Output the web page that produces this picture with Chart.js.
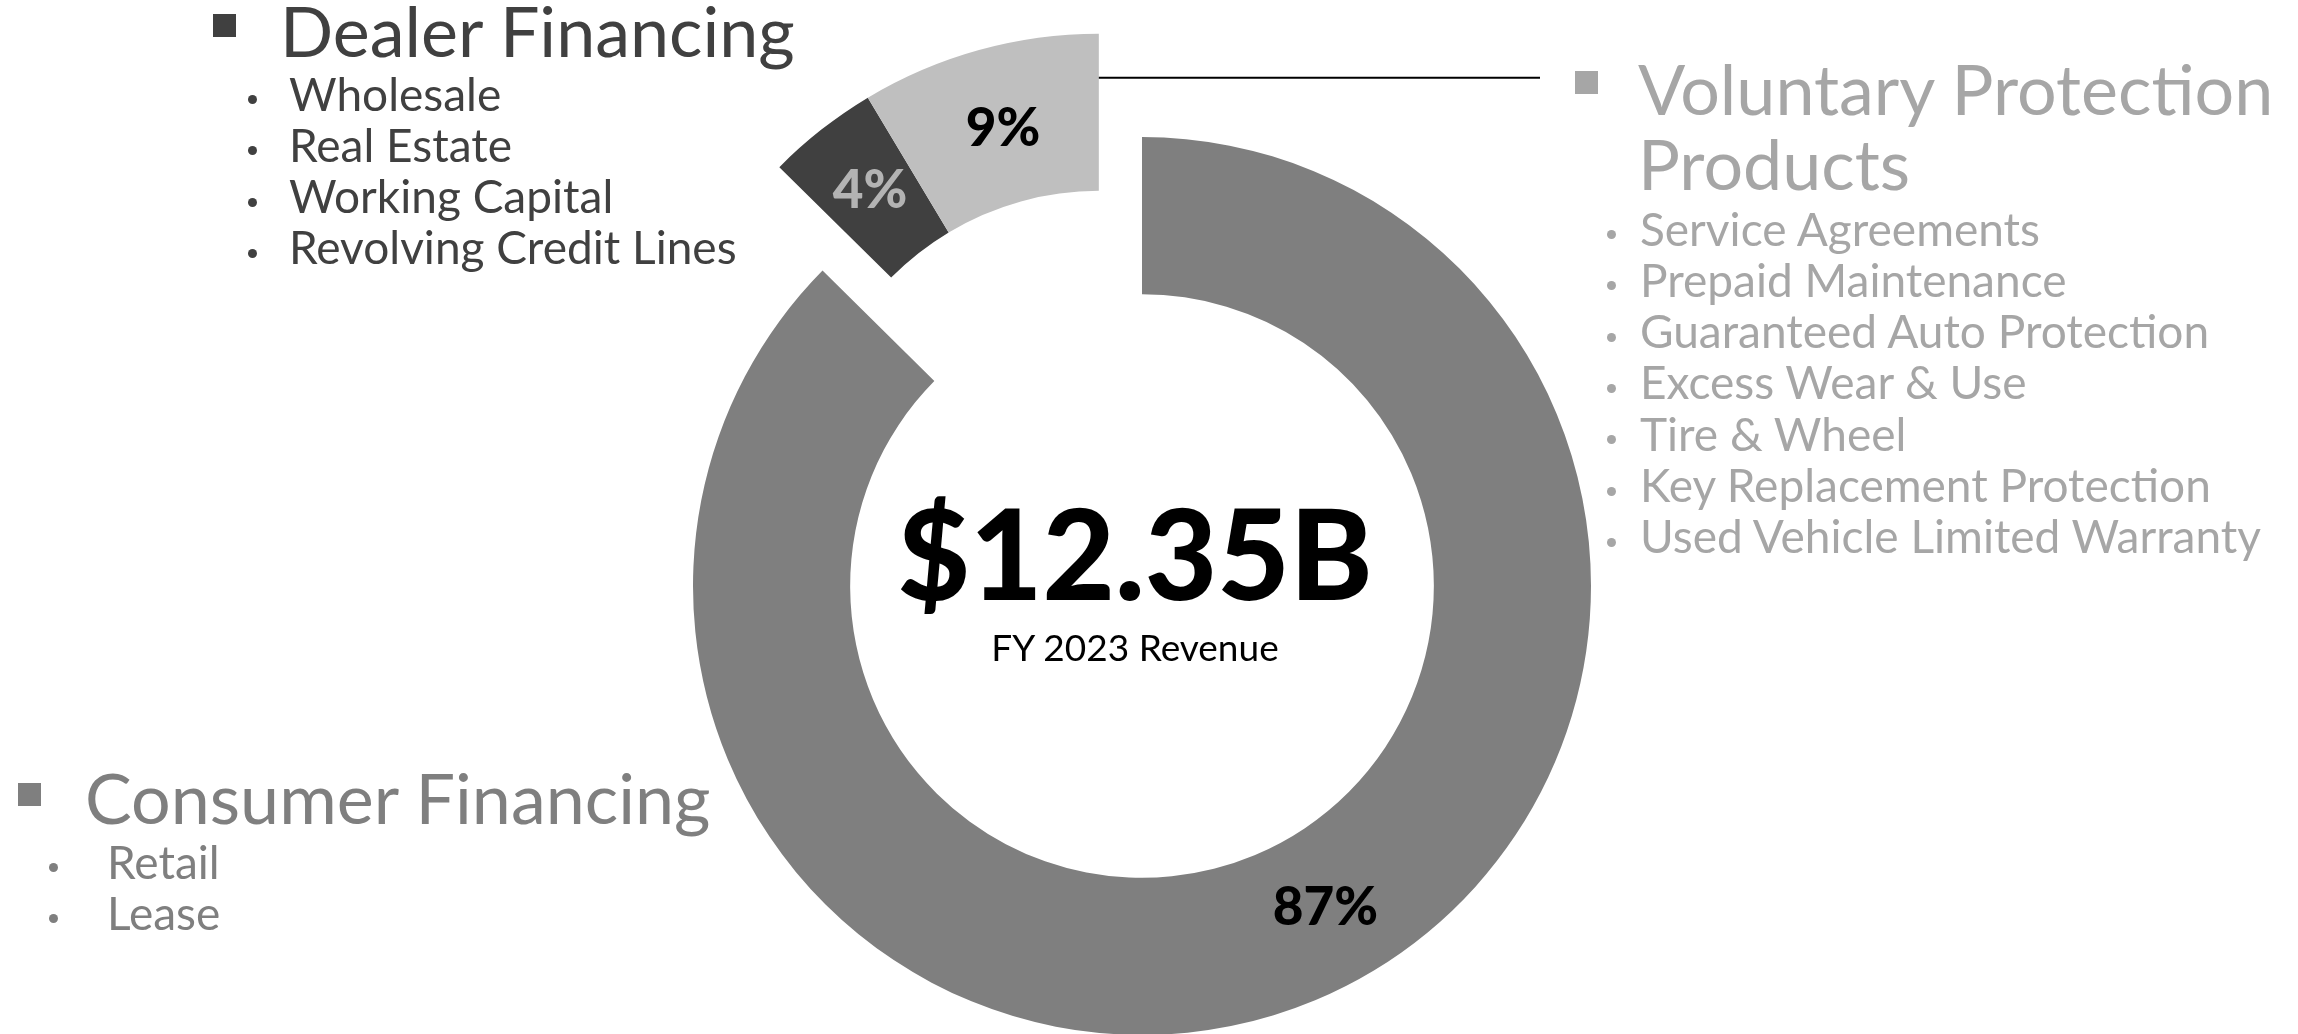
<!DOCTYPE html>
<html>
<head>
<meta charset="utf-8">
<title>FY 2023 Revenue by business</title>
<script src="https://cdn.jsdelivr.net/npm/chart.js@4.4.1/dist/chart.umd.min.js"></script>
<style>
  html, body { margin: 0; padding: 0; background: #fff; }
  body { width: 2298px; height: 1034px; overflow: hidden; position: relative; font-family: Lato, 'Noto Sans', sans-serif; }
  #chartBox { position: absolute; left: 0; top: 0; width: 2298px; height: 1040px; }
  .txt { position: absolute; white-space: nowrap; line-height: 1.2; }
  .sq, .dot { position: absolute; }
  .dot { border-radius: 50%; }
</style>
</head>
<body>
<div id="chartBox"><canvas id="revenueChart"></canvas></div>
<div id="overlay"></div>
<script>
// FY 2023 revenue split: one doughnut, the dealer + protection slices pulled out together.

const categories = ['Consumer Financing', 'Dealer Financing', 'Voluntary Protection Products'];
const shares = [87.4, 4.0, 8.6];
const consumerItems = ['Retail', 'Lease'];
const dealerItems = ['Wholesale', 'Real Estate', 'Working Capital', 'Revolving Credit Lines'];
const protectionItems = [
  'Service Agreements', 'Prepaid Maintenance', 'Guaranteed Auto Protection',
  'Excess Wear & Use', 'Tire & Wheel', 'Key Replacement Protection', 'Used Vehicle Limited Warranty'
];
const totalRevenue = '$12.35B';
const revenueCaption = 'FY 2023 Revenue';

const SLICE_COLORS = ['#7f7f7f', '#404040', '#bfbfbf'];
const LABEL_COLORS = ['#000000', '#b3b3b3', '#000000'];
const LABEL_NUDGE_DEG = [-7, 0, 0.5];   // 87% label sits a bit before its slice middle
const EXPLODED = [1, 2];
const EXPLODE_DIST = 112;
const LEADER_END_X = 1540;

// pulls the exploded slices out as one block, along the bisector of the whole group
const explodePlugin = {
  id: 'explodeGroup',
  afterDatasetUpdate(chart, args) {
    const arcs = chart.getDatasetMeta(args.index).data;
    const group = EXPLODED.map(i => arcs[i]);
    const mid = (Math.min(...group.map(a => a.startAngle)) + Math.max(...group.map(a => a.endAngle))) / 2;
    group.forEach(a => {
      a.x += Math.cos(mid) * EXPLODE_DIST;
      a.y += Math.sin(mid) * EXPLODE_DIST;
    });
  }
};

const sliceLabelPlugin = {
  id: 'sliceLabels',
  afterDatasetsDraw(chart) {
    const ctx = chart.ctx;
    const arcs = chart.getDatasetMeta(0).data;
    ctx.save();
    arcs.forEach((arc, i) => {
      const a = (arc.startAngle + arc.endAngle) / 2 + LABEL_NUDGE_DEG[i] * Math.PI / 180;
      const r = (arc.innerRadius + arc.outerRadius) / 2;
      ctx.font = '900 53px Lato';
      ctx.fillStyle = LABEL_COLORS[i];
      ctx.textAlign = 'center';
      ctx.textBaseline = 'middle';
      ctx.fillText(Math.round(shares[i]) + '%', arc.x + Math.cos(a) * r, arc.y + Math.sin(a) * r + (i === 2 ? 4 : 0));
    });
    // leader line from the protection slice over to its legend
    const p = arcs[2];
    const ly = p.y - (p.innerRadius + 0.72 * (p.outerRadius - p.innerRadius));
    ctx.strokeStyle = '#000';
    ctx.lineWidth = 2;
    ctx.beginPath();
    ctx.moveTo(p.x, ly);
    ctx.lineTo(LEADER_END_X, ly);
    ctx.stroke();
    ctx.restore();
  }
};

new Chart(document.getElementById('revenueChart'), {
  type: 'doughnut',
  data: {
    labels: categories,
    datasets: [{
      data: shares,
      backgroundColor: SLICE_COLORS,
      borderWidth: 0,
      hoverOffset: 0
    }]
  },
  options: {
    responsive: true,
    maintainAspectRatio: false,
    animation: false,
    cutout: '65%',
    layout: { padding: { left: 693, right: 707, top: 137, bottom: 5 } },
    plugins: { legend: { display: false }, tooltip: { enabled: false } }
  },
  plugins: [explodePlugin, sliceLabelPlugin]
});

// ---- text blocks (legend, bullets, centre total) ----
const overlay = document.getElementById('overlay');
const ASC = 0.987; // Lato ascent, line-height 1.2 keeps baseline at top + ascent
const ITEM_SIZE = 46;

function addText(str, x, baseline, size, color, weight, align) {
  const d = document.createElement('div');
  d.className = 'txt';
  d.textContent = str;
  d.style.fontSize = size + 'px';
  d.style.color = color;
  d.style.fontWeight = weight || 400;
  d.style.top = (baseline - ASC * size) + 'px';
  if (align === 'center') {
    d.style.left = (x - 1000) + 'px';
    d.style.width = '2000px';
    d.style.textAlign = 'center';
  } else {
    d.style.left = x + 'px';
  }
  overlay.appendChild(d);
}

function addBox(cls, x, y, size, color) {
  const s = document.createElement('div');
  s.className = cls;
  Object.assign(s.style, { left: x + 'px', top: y + 'px', width: size + 'px', height: size + 'px', background: color });
  overlay.appendChild(s);
}

function addBlock(b) {
  addBox('sq', b.sqX, b.sqY, 23, b.color);
  b.title.forEach((t, i) => addText(t, b.titleX, b.titleBase + i * 75, 70, b.color));
  b.items.forEach((t, i) => {
    const base = b.itemBase + i * b.step;
    addBox('dot', b.dotX - 4.5, base - 16, 9, b.color);
    addText(t, b.itemX, base, ITEM_SIZE, b.color);
  });
}

addBlock({ color: '#404040', sqX: 213, sqY: 14, titleX: 280, titleBase: 57, title: ['Dealer Financing'],
  items: dealerItems, itemBase: 111, step: 51.3, dotX: 252, itemX: 289 });
addBlock({ color: '#a6a6a6', sqX: 1575, sqY: 71, titleX: 1638, titleBase: 115, title: ['Voluntary Protection', 'Products'],
  items: protectionItems, itemBase: 246, step: 51.3, dotX: 1611, itemX: 1640 });
addBlock({ color: '#7f7f7f', sqX: 18, sqY: 783, titleX: 85, titleBase: 824, title: [categories[0]],
  items: consumerItems, itemBase: 879, step: 51.3, dotX: 53, itemX: 107 });

addText(totalRevenue, 1135, 600, 125, '#000', 900, 'center');
addText(revenueCaption, 1135, 662, 37, '#000', 400, 'center');
</script>
</body>
</html>
